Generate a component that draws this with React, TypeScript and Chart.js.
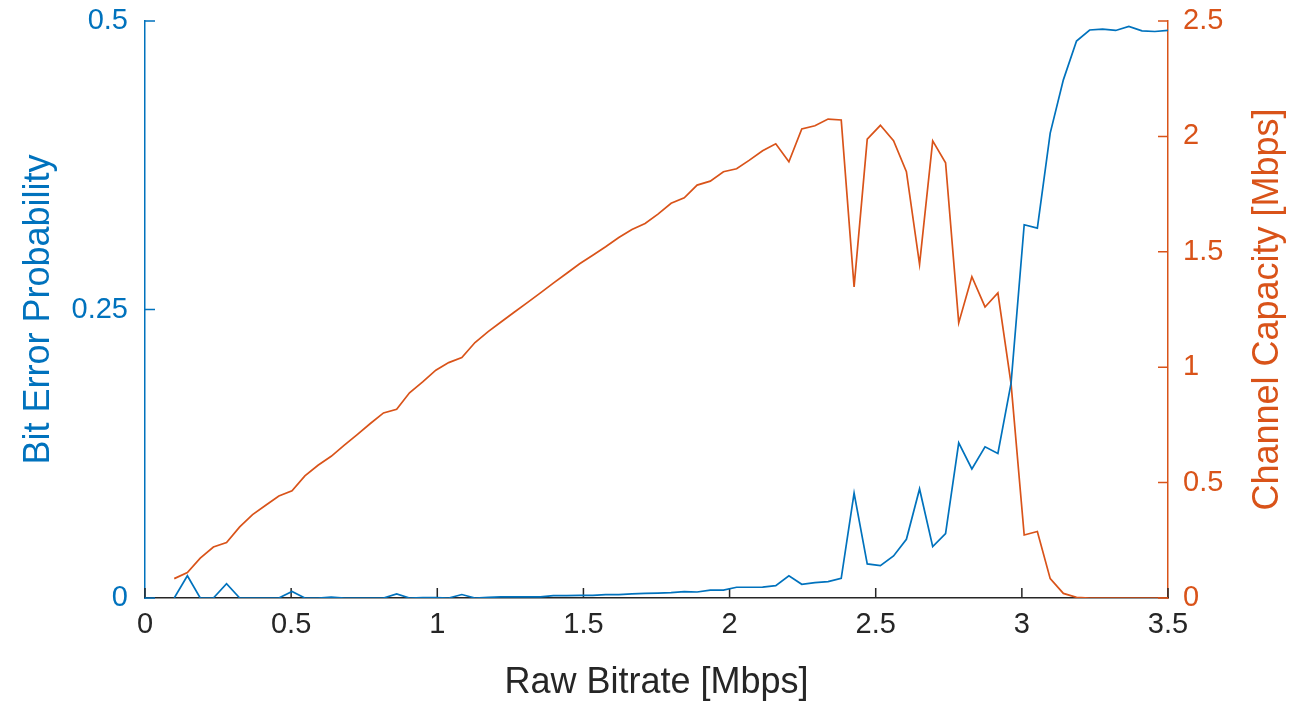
import { useEffect, useRef } from "react";
import { Chart, registerables } from "chart.js";

Chart.register(...registerables);

const BLUE = "#0072BD";
const ORANGE = "#D95319";
const DARK = "#262626";
const FONT = "'Liberation Sans', Arial, Helvetica, sans-serif";

const xTitle = "Raw Bitrate [Mbps]";
const leftTitle = "Bit Error Probability";
const rightTitle = "Channel Capacity [Mbps]";

const xTicks = [0, 0.5, 1, 1.5, 2, 2.5, 3, 3.5];
const leftTicks = [0, 0.25, 0.5];
const rightTicks = [0, 0.5, 1, 1.5, 2, 2.5];

const bitrateMbps = [
  0.1, 0.145, 0.189, 0.234, 0.279, 0.324, 0.368, 0.413, 0.458, 0.503,
  0.547, 0.592, 0.637, 0.682, 0.726, 0.771, 0.816, 0.861, 0.905, 0.95,
  0.995, 1.039, 1.084, 1.129, 1.174, 1.218, 1.263, 1.308, 1.353, 1.397,
  1.442, 1.487, 1.532, 1.576, 1.621, 1.666, 1.711, 1.755, 1.8, 1.845,
  1.889, 1.934, 1.979, 2.024, 2.068, 2.113, 2.158, 2.203, 2.247, 2.292,
  2.337, 2.382, 2.426, 2.471, 2.516, 2.561, 2.605, 2.65, 2.695, 2.739,
  2.784, 2.829, 2.874, 2.918, 2.963, 3.008, 3.053, 3.097, 3.142, 3.187,
  3.232, 3.276, 3.321, 3.366, 3.411, 3.455, 3.5,
];

const bitErrorProbability = [
  0, 0.0193, 0, 0, 0.0124, 0, 0, 0, 0, 0.0057,
  0, 0, 0.0008, 0, 0, 0, 0, 0.0035, 0, 0.0003,
  0.0003, 0, 0.003, 0, 0.0006, 0.0009, 0.001, 0.001, 0.001, 0.002,
  0.002, 0.0022, 0.0023, 0.003, 0.003, 0.0035, 0.004, 0.0043, 0.0046, 0.0055,
  0.0052, 0.0069, 0.0069, 0.0093, 0.0093, 0.0095, 0.0107, 0.0193, 0.0119, 0.0133,
  0.0142, 0.0171, 0.0908, 0.0295, 0.028, 0.0364, 0.0509, 0.0945, 0.0445, 0.0558,
  0.1344, 0.1118, 0.131, 0.1253, 0.186, 0.3234, 0.3205, 0.4028, 0.449, 0.4826,
  0.4922, 0.493, 0.4918, 0.4953, 0.4915, 0.4909, 0.4918,
];

const channelCapacityMbps = [
  0.084, 0.11, 0.173, 0.221, 0.24, 0.308, 0.361, 0.402, 0.442, 0.464,
  0.529, 0.575, 0.614, 0.662, 0.708, 0.756, 0.802, 0.818, 0.889, 0.936,
  0.987, 1.02, 1.042, 1.107, 1.154, 1.196, 1.238, 1.28, 1.322, 1.364,
  1.406, 1.448, 1.485, 1.522, 1.562, 1.597, 1.623, 1.663, 1.71, 1.734,
  1.789, 1.806, 1.847, 1.86, 1.897, 1.938, 1.968, 1.89, 2.032, 2.046,
  2.075, 2.071, 1.348, 1.988, 2.048, 1.981, 1.847, 1.446, 1.981, 1.886,
  1.192, 1.392, 1.261, 1.322, 0.929, 0.273, 0.288, 0.084, 0.02, 0.003,
  0, 0, 0, 0, 0, 0, 0,
];

const W = 1302;
const H = 703;

const axisDecor = {
  id: "axisDecor",
  beforeDatasetsDraw(chart: any) {
    const { ctx, chartArea: a, scales } = chart;
    const L = 10;
    ctx.save();
    ctx.lineWidth = 1.5;
    ctx.strokeStyle = DARK;
    ctx.beginPath();
    for (const v of xTicks) {
      const x = scales.x.getPixelForValue(v);
      ctx.moveTo(x, a.bottom);
      ctx.lineTo(x, a.bottom - L);
    }
    ctx.stroke();
    ctx.strokeStyle = BLUE;
    ctx.beginPath();
    for (const v of leftTicks) {
      const y = scales.y.getPixelForValue(v);
      ctx.moveTo(a.left, y);
      ctx.lineTo(a.left + L, y);
    }
    ctx.stroke();
    ctx.strokeStyle = ORANGE;
    ctx.beginPath();
    for (const v of rightTicks) {
      const y = scales.y1.getPixelForValue(v);
      ctx.moveTo(a.right, y);
      ctx.lineTo(a.right - L, y);
    }
    ctx.stroke();
    ctx.restore();
  },
  afterDraw(chart: any) {
    const { ctx, chartArea: a } = chart;
    ctx.save();
    ctx.translate(chart.width - 34, (a.top + a.bottom) / 2);
    ctx.rotate(-Math.PI / 2);
    ctx.font = `36px ${FONT}`;
    ctx.fillStyle = ORANGE;
    ctx.textAlign = "center";
    ctx.textBaseline = "middle";
    ctx.fillText(rightTitle, 0, 0);
    ctx.restore();
  },
};

const noPad = (s: any) => {
  s.paddingTop = 0;
  s.paddingBottom = 0;
  s.paddingLeft = 0;
  s.paddingRight = 0;
};

const plainLabel = (v: any) => String(Number(v));

export default function App() {
  const ref = useRef<HTMLCanvasElement | null>(null);

  useEffect(() => {
    if (!ref.current) return;
    const chart = new Chart(ref.current, {
      type: "line",
      data: {
        datasets: [
          {
            label: leftTitle,
            data: bitrateMbps.map((x, i) => ({ x, y: bitErrorProbability[i] })),
            borderColor: BLUE,
            backgroundColor: BLUE,
            borderWidth: 1.7,
            pointRadius: 0,
            tension: 0,
            yAxisID: "y",
          },
          {
            label: rightTitle,
            data: bitrateMbps.map((x, i) => ({ x, y: channelCapacityMbps[i] })),
            borderColor: ORANGE,
            backgroundColor: ORANGE,
            borderWidth: 1.7,
            pointRadius: 0,
            tension: 0,
            yAxisID: "y1",
          },
        ],
      },
      options: {
        responsive: false,
        animation: false,
        layout: { padding: { top: 21, left: 0, right: 0, bottom: 0 } },
        plugins: { legend: { display: false }, tooltip: { enabled: false } },
        scales: {
          x: {
            type: "linear",
            min: 0,
            max: 3.5,
            afterBuildTicks: (s: any) => {
              s.ticks = xTicks.map((v) => ({ value: v }));
            },
            afterFit: (s: any) => {
              s.height = 105;
              noPad(s);
            },
            grid: { display: false, drawTicks: false },
            border: { display: true, color: DARK, width: 1.5 },
            ticks: {
              color: DARK,
              font: { family: FONT, size: 29 },
              padding: 10,
              maxRotation: 0,
              autoSkip: false,
              callback: plainLabel,
            },
            title: {
              display: true,
              text: xTitle,
              color: DARK,
              font: { family: FONT, size: 36, lineHeight: 1 },
              padding: { top: 0, bottom: 2 },
            },
          },
          y: {
            type: "linear",
            position: "left",
            min: 0,
            max: 0.5,
            afterBuildTicks: (s: any) => {
              s.ticks = leftTicks.map((v) => ({ value: v }));
            },
            afterFit: (s: any) => {
              s.width = 145;
              noPad(s);
            },
            grid: { display: false, drawTicks: false },
            border: { display: true, color: BLUE, width: 1.5 },
            ticks: {
              color: BLUE,
              font: { family: FONT, size: 29 },
              padding: 17,
              autoSkip: false,
              callback: plainLabel,
            },
            title: {
              display: true,
              text: leftTitle,
              color: BLUE,
              font: { family: FONT, size: 36, lineHeight: 1 },
              padding: { top: 21, bottom: 0 },
            },
          },
          y1: {
            type: "linear",
            position: "right",
            min: 0,
            max: 2.5,
            afterBuildTicks: (s: any) => {
              s.ticks = rightTicks.map((v) => ({ value: v }));
            },
            afterFit: (s: any) => {
              s.width = 134;
              noPad(s);
            },
            grid: { display: false, drawTicks: false },
            border: { display: true, color: ORANGE, width: 1.5 },
            ticks: {
              color: ORANGE,
              font: { family: FONT, size: 29 },
              padding: 15,
              autoSkip: false,
              callback: plainLabel,
            },
          },
        },
      },
      plugins: [axisDecor],
    });
    return () => chart.destroy();
  }, []);

  return (
    <div style={{ position: "fixed", left: 0, top: 0, width: W, height: H, background: "#fff" }}>
      <canvas ref={ref} width={W} height={H} style={{ display: "block" }} />
    </div>
  );
}
